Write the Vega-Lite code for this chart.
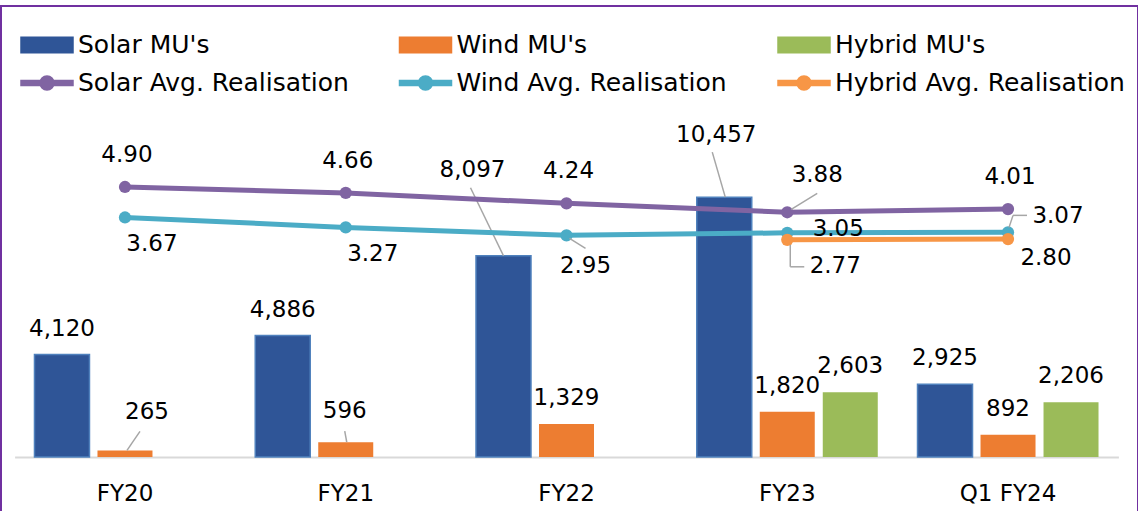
{
  "$schema": "https://vega.github.io/schema/vega-lite/v6.json",
  "width": 1137,
  "height": 510,
  "autosize": {"type": "none"},
  "padding": {"left": 1, "top": 6, "right": 0, "bottom": 0},
  "background": "white",
  "config": {
    "view": {"stroke": "#7030A0", "strokeWidth": 2},
    "font": "DejaVu Sans",
    "text": {"font": "DejaVu Sans", "fontSize": 23, "color": "#000000", "baseline": "middle", "align": "center"}
  },
  "datasets": {
    "mu": [
      {"period": "FY20", "series": "Solar MU's", "value": 4120},
      {"period": "FY20", "series": "Wind MU's", "value": 265},
      {"period": "FY21", "series": "Solar MU's", "value": 4886},
      {"period": "FY21", "series": "Wind MU's", "value": 596},
      {"period": "FY22", "series": "Solar MU's", "value": 8097},
      {"period": "FY22", "series": "Wind MU's", "value": 1329},
      {"period": "FY23", "series": "Solar MU's", "value": 10457},
      {"period": "FY23", "series": "Wind MU's", "value": 1820},
      {"period": "FY23", "series": "Hybrid MU's", "value": 2603},
      {"period": "Q1 FY24", "series": "Solar MU's", "value": 2925},
      {"period": "Q1 FY24", "series": "Wind MU's", "value": 892},
      {"period": "Q1 FY24", "series": "Hybrid MU's", "value": 2206}
    ],
    "real": [
      {"period": "FY20", "series": "Solar Avg. Realisation", "value": 4.90},
      {"period": "FY21", "series": "Solar Avg. Realisation", "value": 4.66},
      {"period": "FY22", "series": "Solar Avg. Realisation", "value": 4.24},
      {"period": "FY23", "series": "Solar Avg. Realisation", "value": 3.88},
      {"period": "Q1 FY24", "series": "Solar Avg. Realisation", "value": 4.01},
      {"period": "FY20", "series": "Wind Avg. Realisation", "value": 3.67},
      {"period": "FY21", "series": "Wind Avg. Realisation", "value": 3.27},
      {"period": "FY22", "series": "Wind Avg. Realisation", "value": 2.95},
      {"period": "FY23", "series": "Wind Avg. Realisation", "value": 3.05},
      {"period": "Q1 FY24", "series": "Wind Avg. Realisation", "value": 3.07},
      {"period": "FY23", "series": "Hybrid Avg. Realisation", "value": 2.77},
      {"period": "Q1 FY24", "series": "Hybrid Avg. Realisation", "value": 2.80}
    ]
  },
  "encoding": {
    "x": {
      "field": "period", "type": "nominal",
      "sort": ["FY20", "FY21", "FY22", "FY23", "Q1 FY24"],
      "scale": {"domain": ["FY20", "FY21", "FY22", "FY23", "Q1 FY24"], "range": [13.6, 1117.4], "paddingInner": 0, "paddingOuter": 0},
      "axis": {"title": null, "orient": "bottom", "offset": -59, "ticks": false, "grid": false, "domainColor": "#D9D9D9", "domainWidth": 2, "labelFont": "DejaVu Sans", "labelFontSize": 23, "labelColor": "#000000", "labelPadding": 25, "labelAngle": 0}
    }
  },
  "layer": [
    {
      "data": {"name": "mu"},
      "encoding": {
        "xOffset": {"field": "series", "type": "nominal", "scale": {"domain": ["Solar MU's", "Wind MU's", "Hybrid MU's"], "paddingInner": 0.127, "paddingOuter": 0.3155}},
        "y": {"field": "value", "type": "quantitative", "scale": {"domain": [0, 10000], "range": [451, 202.5], "nice": false, "zero": true}, "axis": null}
      },
      "layer": [
        {
          "mark": {"type": "bar", "strokeWidth": 1.5},
          "encoding": {
            "color": {
              "field": "series", "type": "nominal",
              "scale": {
                "domain": ["Solar MU's", "Wind MU's", "Hybrid MU's", "Solar Avg. Realisation", "Wind Avg. Realisation", "Hybrid Avg. Realisation"],
                "range": ["#2F5597", "#ED7D31", "#9BBB59", "#8064A2", "#4BACC6", "#F79646"]
              },
              "legend": {
                "title": null, "orient": "none", "legendX": 19, "legendY": 25,
                "direction": "horizontal", "columns": 3, "gridAlign": "all",
                "columnPadding": 28.5, "rowPadding": 11, "padding": 0,
                "labelFont": "DejaVu Sans", "labelFontSize": 25, "labelColor": "#000000",
                "labelOffset": 30, "labelLimit": 400, "symbolSize": 676,
                "symbolType": {"expr": "indexof(datum.value, 'MU') >= 0 ? 'M-1,-0.6H3V0.6H-1Z' : 'M-1,-0.19H0.5V0.19H-1Z M1.5,-0.19H3V0.19H1.5Z M1.54,0A0.54,0.54 0 1,1 0.46,0A0.54,0.54 0 1,1 1.54,0Z'"},
                "symbolStrokeColor": {"expr": "indexof(datum.value, 'Solar MU') >= 0 ? '#4F81BD' : 'transparent'"},
                "symbolStrokeWidth": 1.5,
                "symbolOpacity": 1
              }
            },
            "stroke": {"condition": {"test": "datum.series === \"Solar MU's\"", "value": "#4F81BD"}, "value": "transparent"}
          }
        },
        {
          "transform": [{"filter": "!((datum.period === 'FY22' || datum.period === 'FY23') && datum.series === \"Solar MU's\") && !((datum.period === 'FY20' || datum.period === 'FY21') && datum.series === \"Wind MU's\")"}],
          "mark": {"type": "text", "dy": -26},
          "encoding": {"text": {"field": "value", "type": "quantitative", "format": ",.0f"}}
        },
        {
          "transform": [{"filter": "datum.period === 'FY22' && datum.series === \"Solar MU's\""}],
          "mark": {"type": "text", "dx": -31, "dy": -86},
          "encoding": {"text": {"field": "value", "type": "quantitative", "format": ",.0f"}}
        },
        {
          "transform": [{"filter": "datum.period === 'FY23' && datum.series === \"Solar MU's\""}],
          "mark": {"type": "text", "dx": -8, "dy": -62},
          "encoding": {"text": {"field": "value", "type": "quantitative", "format": ",.0f"}}
        },
        {
          "transform": [{"filter": "datum.period === 'FY20' && datum.series === \"Wind MU's\""}],
          "mark": {"type": "text", "dx": 22, "dy": -38},
          "encoding": {"text": {"field": "value", "type": "quantitative", "format": ",.0f"}}
        },
        {
          "transform": [{"filter": "datum.period === 'FY21' && datum.series === \"Wind MU's\""}],
          "mark": {"type": "text", "dx": -1, "dy": -31},
          "encoding": {"text": {"field": "value", "type": "quantitative", "format": ",.0f"}}
        }
      ]
    },
    {
      "data": {"name": "mu"},
      "encoding": {
        "x": {"field": "period", "type": "nominal", "bandPosition": 0.5},
        "x2": {"field": "period"},
        "y": {"field": "value", "type": "quantitative", "scale": {"domain": [0, 10000], "range": [451, 202.5], "nice": false, "zero": true}, "axis": null},
        "y2": {"field": "value"}
      },
      "layer": [
        {
          "transform": [{"filter": "datum.period === 'FY22' && datum.series === \"Solar MU's\""}],
          "mark": {"type": "rule", "color": "#A6A6A6", "strokeWidth": 1.5, "xOffset": -63, "x2Offset": -96, "y2Offset": -68}
        },
        {
          "transform": [{"filter": "datum.period === 'FY23' && datum.series === \"Solar MU's\""}],
          "mark": {"type": "rule", "color": "#A6A6A6", "strokeWidth": 1.5, "xOffset": -62, "x2Offset": -75, "y2Offset": -45}
        },
        {
          "transform": [{"filter": "datum.period === 'FY20' && datum.series === \"Wind MU's\""}],
          "mark": {"type": "rule", "color": "#A6A6A6", "strokeWidth": 1.5, "xOffset": 2, "x2Offset": 15, "y2Offset": -19}
        },
        {
          "transform": [{"filter": "datum.period === 'FY21' && datum.series === \"Wind MU's\""}],
          "mark": {"type": "rule", "color": "#A6A6A6", "strokeWidth": 1.5, "xOffset": 1, "x2Offset": -1, "y2Offset": -11}
        }
      ]
    },
    {
      "data": {"name": "real"},
      "encoding": {
        "y": {"field": "value", "type": "quantitative", "scale": {"domain": [0, 5], "range": [302.5, 178.5], "nice": false, "zero": false}, "axis": null}
      },
      "layer": [
        {
          "mark": {"type": "line", "strokeWidth": 5},
          "encoding": {"color": {"field": "series", "type": "nominal", "legend": null}}
        },
        {
          "mark": {"type": "point", "filled": true, "size": 150, "opacity": 1},
          "encoding": {"color": {"field": "series", "type": "nominal", "legend": null}}
        },
        {
          "transform": [{"filter": "datum.series === 'Solar Avg. Realisation' && datum.period !== 'FY23'"}],
          "mark": {"type": "text", "dx": 2, "dy": -32},
          "encoding": {"text": {"field": "value", "type": "quantitative", "format": ".2f"}}
        },
        {
          "transform": [{"filter": "datum.series === 'Solar Avg. Realisation' && datum.period === 'FY23'"}],
          "mark": {"type": "text", "dx": 30, "dy": -37},
          "encoding": {"text": {"field": "value", "type": "quantitative", "format": ".2f"}}
        },
        {
          "transform": [{"filter": "datum.series === 'Wind Avg. Realisation' && (datum.period === 'FY20' || datum.period === 'FY21')"}],
          "mark": {"type": "text", "dx": 27, "dy": 27},
          "encoding": {"text": {"field": "value", "type": "quantitative", "format": ".2f"}}
        },
        {
          "transform": [{"filter": "datum.series === 'Wind Avg. Realisation' && datum.period === 'FY22'"}],
          "mark": {"type": "text", "dx": 19, "dy": 31},
          "encoding": {"text": {"field": "value", "type": "quantitative", "format": ".2f"}}
        },
        {
          "transform": [{"filter": "datum.series === 'Wind Avg. Realisation' && datum.period === 'FY23'"}],
          "mark": {"type": "text", "dx": 51, "dy": -4},
          "encoding": {"text": {"field": "value", "type": "quantitative", "format": ".2f"}}
        },
        {
          "transform": [{"filter": "datum.series === 'Wind Avg. Realisation' && datum.period === 'Q1 FY24'"}],
          "mark": {"type": "text", "dx": 50, "dy": -16},
          "encoding": {"text": {"field": "value", "type": "quantitative", "format": ".2f"}}
        },
        {
          "transform": [{"filter": "datum.series === 'Hybrid Avg. Realisation' && datum.period === 'FY23'"}],
          "mark": {"type": "text", "dx": 48, "dy": 26},
          "encoding": {"text": {"field": "value", "type": "quantitative", "format": ".2f"}}
        },
        {
          "transform": [{"filter": "datum.series === 'Hybrid Avg. Realisation' && datum.period === 'Q1 FY24'"}],
          "mark": {"type": "text", "dx": 38, "dy": 19},
          "encoding": {"text": {"field": "value", "type": "quantitative", "format": ".2f"}}
        },
        {
          "transform": [{"filter": "datum.series === 'Solar Avg. Realisation' && datum.period === 'FY23'"}],
          "mark": {"type": "rule", "color": "#A6A6A6", "strokeWidth": 1.5, "xOffset": 4, "yOffset": -3, "x2Offset": 30, "y2Offset": -19},
          "encoding": {"x": {"field": "period", "type": "nominal", "bandPosition": 0.5}, "x2": {"field": "period"}, "y2": {"field": "value"}}
        },
        {
          "transform": [{"filter": "datum.series === 'Wind Avg. Realisation' && datum.period === 'FY22'"}],
          "mark": {"type": "rule", "color": "#A6A6A6", "strokeWidth": 1.5, "xOffset": 3, "yOffset": 3, "x2Offset": 19, "y2Offset": 13},
          "encoding": {"x": {"field": "period", "type": "nominal", "bandPosition": 0.5}, "x2": {"field": "period"}, "y2": {"field": "value"}}
        },
        {
          "transform": [{"filter": "datum.series === 'Hybrid Avg. Realisation' && datum.period === 'FY23'"}],
          "mark": {"type": "rule", "color": "#A6A6A6", "strokeWidth": 1.5, "xOffset": 3, "yOffset": 5, "x2Offset": 3, "y2Offset": 27},
          "encoding": {"x": {"field": "period", "type": "nominal", "bandPosition": 0.5}, "x2": {"field": "period"}, "y2": {"field": "value"}}
        },
        {
          "transform": [{"filter": "datum.series === 'Hybrid Avg. Realisation' && datum.period === 'FY23'"}],
          "mark": {"type": "rule", "color": "#A6A6A6", "strokeWidth": 1.5, "xOffset": 3, "yOffset": 27, "x2Offset": 17, "y2Offset": 27},
          "encoding": {"x": {"field": "period", "type": "nominal", "bandPosition": 0.5}, "x2": {"field": "period"}, "y2": {"field": "value"}}
        },
        {
          "transform": [{"filter": "datum.series === 'Wind Avg. Realisation' && datum.period === 'Q1 FY24'"}],
          "mark": {"type": "rule", "color": "#A6A6A6", "strokeWidth": 1.5, "xOffset": 1, "yOffset": -5, "x2Offset": 5, "y2Offset": -17},
          "encoding": {"x": {"field": "period", "type": "nominal", "bandPosition": 0.5}, "x2": {"field": "period"}, "y2": {"field": "value"}}
        },
        {
          "transform": [{"filter": "datum.series === 'Wind Avg. Realisation' && datum.period === 'Q1 FY24'"}],
          "mark": {"type": "rule", "color": "#A6A6A6", "strokeWidth": 1.5, "xOffset": 5, "yOffset": -17, "x2Offset": 19, "y2Offset": -17},
          "encoding": {"x": {"field": "period", "type": "nominal", "bandPosition": 0.5}, "x2": {"field": "period"}, "y2": {"field": "value"}}
        }
      ]
    },
    {
      "mark": {"type": "rule", "color": "#A5373A", "strokeWidth": 2, "strokeDash": [10, 8]},
      "encoding": {
        "x": {"datum": "Q1 FY24", "type": "nominal", "bandPosition": 0},
        "y": {"datum": 13763, "type": "quantitative", "scale": {"domain": [0, 10000], "range": [451, 202.5], "nice": false, "zero": true}, "axis": null},
        "y2": {"datum": 0}
      }
    }
  ],
  "resolve": {"scale": {"y": "independent"}}
}
